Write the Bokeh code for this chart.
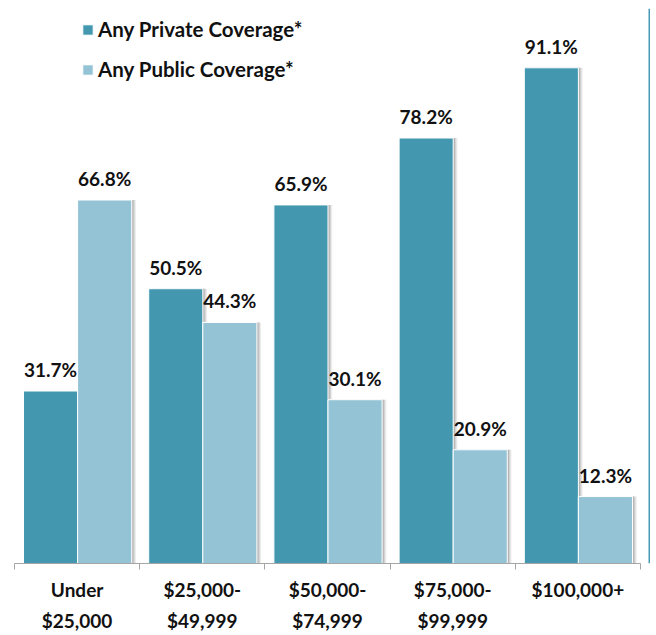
import numpy as np
from bokeh.plotting import figure
from bokeh.models import ColumnDataSource, LabelSet, Range1d, FixedTicker, Span
from bokeh.core.properties import value
from bokeh.transform import dodge
from bokeh.embed import file_html
from bokeh.resources import INLINE

categories = ["Under\n$25,000", "$25,000-\n$49,999", "$50,000-\n$74,999",
              "$75,000-\n$99,999", "$100,000+"]
private = [31.7, 50.5, 65.9, 78.2, 91.1]
public = [66.8, 44.3, 30.1, 20.9, 12.3]
series_names = ["Any Private Coverage*", "Any Public Coverage*"]

DARK = "#4398B0"
LIGHT = "#93C3D5"
FONT = "Lato"

idx = np.arange(len(categories))
src = ColumnDataSource(dict(
    xp=idx + 0.288,
    xq=idx + 0.72,
    private=private,
    public=public,
    plab=[f"{v:.1f}%" for v in private],
    qlab=[f"{v:.1f}%" for v in public],
))

p = figure(frame_width=642, frame_height=555, output_backend="svg",
           toolbar_location=None, x_range=Range1d(-0.048, 5.08),
           y_range=Range1d(0, 102.0), min_border_left=8, min_border_right=0,
           min_border_top=8, min_border_bottom=0)
p.outline_line_color = None
p.xgrid.visible = False
p.ygrid.visible = False
p.yaxis.visible = False

W = 0.432
# soft shadows on the right side of each bar
for dx, a in [(0.034, 0.07), (0.024, 0.10), (0.014, 0.14)]:
    p.vbar(x=dodge("xp", dx), top="private", width=W, bottom=0, source=src,
           fill_color="black", fill_alpha=a, line_color=None)
    p.vbar(x=dodge("xq", dx), top="public", width=W, bottom=0, source=src,
           fill_color="black", fill_alpha=a, line_color=None)
r1 = p.vbar(x="xp", top="private", width=W, bottom=0, source=src,
            fill_color=DARK, line_color="white", line_width=1,
            legend_label=series_names[0])
r2 = p.vbar(x="xq", top="public", width=W, bottom=0, source=src,
            fill_color=LIGHT, line_color="white", line_width=1,
            legend_label=series_names[1])

for xc, yc, tc in [("xp", "private", "plab"), ("xq", "public", "qlab")]:
    p.add_layout(LabelSet(x=xc, y=yc, text=tc, source=src, y_offset=14,
                          text_align="center", text_baseline="alphabetic",
                          text_font=value(FONT), text_font_style="bold",
                          text_font_size="19px", text_color="#111111"))

ax = p.xaxis[0]
ax.ticker = FixedTicker(ticks=[float(i) + 0.5 for i in idx],
                        minor_ticks=[float(i) for i in range(len(categories) + 1)])
ax.major_label_overrides = {float(i) + 0.5: c for i, c in zip(idx, categories)}
ax.bounds = (0, len(categories))
ax.axis_line_color = "#A6A6A6"
ax.axis_line_width = 1
ax.major_tick_line_color = None
ax.major_tick_in = 0
ax.major_tick_out = 0
ax.minor_tick_in = 0
ax.minor_tick_out = 6
ax.minor_tick_line_color = "#A6A6A6"
ax.major_label_standoff = 8
ax.major_label_text_font = FONT
ax.major_label_text_font_style = "bold"
ax.major_label_text_font_size = "19px"
ax.major_label_text_color = "#111111"
ax.major_label_text_line_height = 1.35

p.add_layout(Span(location=5.072, dimension="height", line_color="#4A9BB5",
                  line_width=2))

lg = p.legend[0]
lg.location = (73, 482)
lg.padding = 0
lg.margin = 0
lg.spacing = 16
lg.glyph_width = 13
lg.glyph_height = 13
lg.label_standoff = 4
lg.label_text_font = FONT
lg.label_text_font_style = "bold"
lg.label_text_font_size = "20.5px"
lg.label_text_color = "#111111"
lg.background_fill_alpha = 0
lg.border_line_color = None

open("out.html", "w").write(file_html(p, INLINE))
